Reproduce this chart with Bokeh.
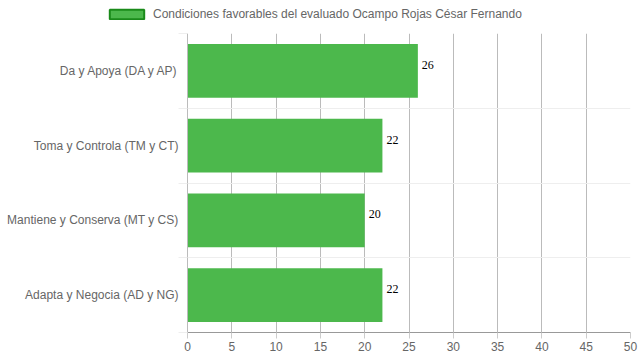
from bokeh.plotting import figure
from bokeh.layouts import column
from bokeh.models import Range1d, FixedTicker, Legend, LegendItem, ColumnDataSource
from bokeh.core.properties import value
from bokeh.embed import file_html
from bokeh.resources import INLINE

categories = ["Da y Apoya (DA y AP)", "Toma y Controla (TM y CT)",
              "Mantiene y Conserva (MT y CS)", "Adapta y Negocia (AD y NG)"]
values = [26, 22, 20, 22]
x_ticks = [0, 5, 10, 15, 20, 25, 30, 35, 40, 45, 50]
series_name = "Condiciones favorables del evaluado Ocampo Rojas César Fernando"

n = len(categories)
pos = [i + 0.5 for i in range(n)]
src = ColumnDataSource(dict(y=pos, v=values, t=[str(v) for v in values]))

bar_color = "#4cb84c"

# legend strip
lg = figure(width=639, height=25, output_backend="svg", toolbar_location=None,
            x_axis_type=None, y_axis_type=None, min_border=0,
            x_range=Range1d(0, 1), y_range=Range1d(0, 1))
lg.frame_align = False
lg.outline_line_color = None
lg.grid.visible = False
# swatch renderer (kept out of the visible range, only used by the legend)
dummy = lg.rect(x=[5], y=[5], width=1, height=1, fill_color=bar_color,
                line_color="#1a8a1a", line_width=2)
legend = Legend(items=[LegendItem(label=series_name, renderers=[dummy])],
                location=(105, 4), orientation="horizontal",
                glyph_width=43, glyph_height=12, label_height=12,
                padding=0, margin=0, spacing=0, label_standoff=5,
                label_text_font="Liberation Sans", label_text_font_size="12px",
                label_text_color="#666666", border_line_color=None,
                background_fill_alpha=0)
lg.add_layout(legend, "center")

p = figure(width=639, height=335, output_backend="svg", toolbar_location=None,
           x_range=Range1d(0, 50), y_range=Range1d(n, 0),
           min_border_left=187, min_border_right=9, min_border_top=8,
           min_border_bottom=28)
p.frame_align = False
p.outline_line_color = None
p.background_fill_color = "white"

r = p.hbar(y="y", right="v", left=0, height=0.72, source=src,
           fill_color=bar_color, line_color=None)
p.text(x="v", y="y", text="t", source=src, x_offset=4, y_offset=-6,
       text_font=value("Liberation Serif"), text_font_size="12px",
       text_color="black", text_baseline="middle", text_align="left")

xa = p.xaxis[0]
xa.ticker = FixedTicker(ticks=x_ticks)
xa.major_tick_out = 6
xa.major_tick_in = 0
xa.minor_tick_out = 0
xa.axis_line_color = "#999999"
xa.major_tick_line_color = "#cccccc"
xa.major_label_text_font = "Liberation Sans"
xa.major_label_text_font_size = "12px"
xa.major_label_text_color = "#666666"
xa.major_label_standoff = 3

ya = p.yaxis[0]
ya.ticker = FixedTicker(ticks=pos, minor_ticks=list(range(n + 1)))
ya.major_label_overrides = {pp: c for pp, c in zip(pos, categories)}
ya.major_tick_out = 0
ya.major_tick_in = 0
ya.minor_tick_out = 9
ya.minor_tick_in = 0
ya.minor_tick_line_color = "#eeeeee"
ya.axis_line_color = "#bbbbbb"
ya.major_label_text_font = "Liberation Sans"
ya.major_label_text_font_size = "12px"
ya.major_label_text_color = "#666666"
ya.major_label_standoff = 0

p.xgrid.grid_line_color = "#bbbbbb"
p.ygrid.grid_line_color = None
p.ygrid.minor_grid_line_color = "#eeeeee"

layout = column(lg, p, spacing=0)
open("out.html", "w").write(file_html(layout, INLINE))
